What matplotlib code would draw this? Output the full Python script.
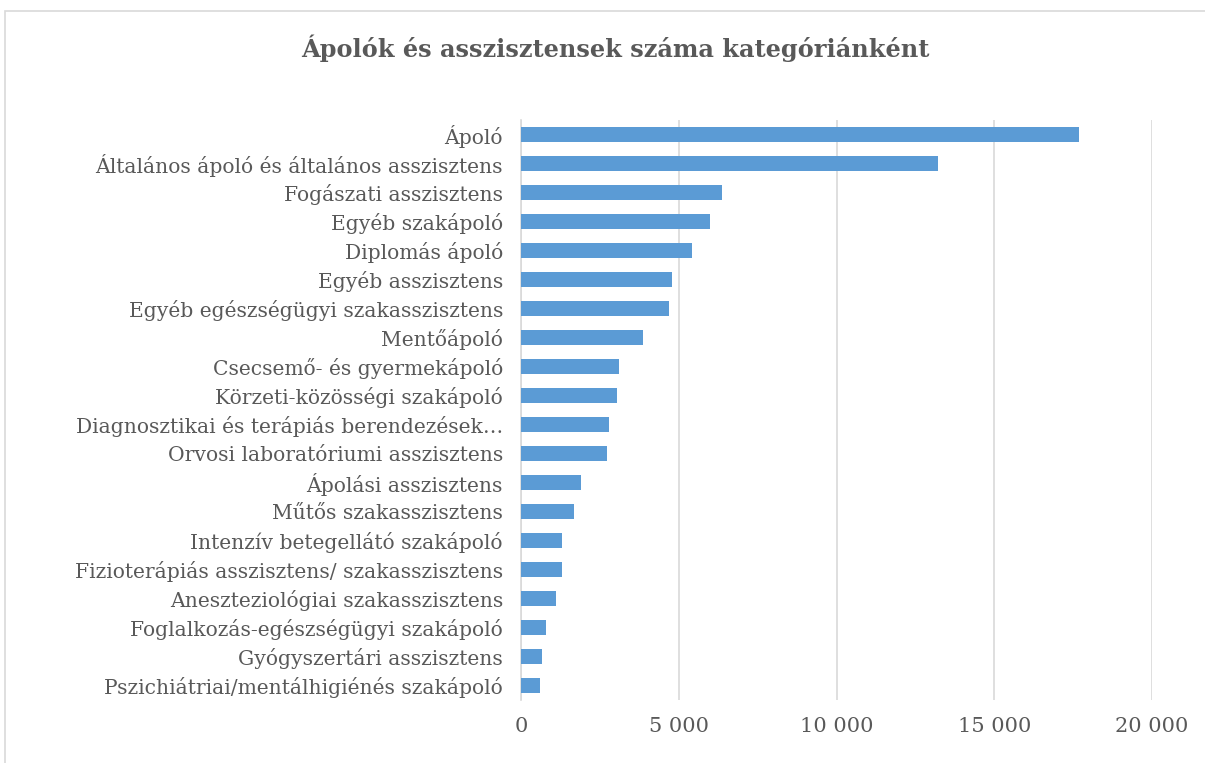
import matplotlib
matplotlib.use("Agg")
import matplotlib.pyplot as plt
from matplotlib.patches import Rectangle
from matplotlib.ticker import FuncFormatter

categories = [
    "Ápoló",
    "Általános ápoló és általános asszisztens",
    "Fogászati asszisztens",
    "Egyéb szakápoló",
    "Diplomás ápoló",
    "Egyéb asszisztens",
    "Egyéb egészségügyi szakasszisztens",
    "Mentőápoló",
    "Csecsemő- és gyermekápoló",
    "Körzeti-közösségi szakápoló",
    "Diagnosztikai és terápiás berendezések…",
    "Orvosi laboratóriumi asszisztens",
    "Ápolási asszisztens",
    "Műtős szakasszisztens",
    "Intenzív betegellátó szakápoló",
    "Fizioterápiás asszisztens/ szakasszisztens",
    "Aneszteziológiai szakasszisztens",
    "Foglalkozás-egészségügyi szakápoló",
    "Gyógyszertári asszisztens",
    "Pszichiátriai/mentálhigiénés szakápoló",
]
values = [17700, 13220, 6370, 5990, 5430, 4800, 4680, 3870, 3110, 3040,
          2800, 2730, 1910, 1670, 1290, 1290, 1100, 785, 660, 595]
xticks = [0, 5000, 10000, 15000, 20000]
title = "Ápolók és asszisztensek száma kategóriánként"

txt = "#595959"
plt.rcParams['font.family'] = ['DejaVu Serif']

fig = plt.figure(figsize=(12.05, 7.63), dpi=100)
ax = fig.add_axes([521/1205, 1-700/763, 631/1205, 580/763])

n = len(categories)
ypos = list(range(n))
ax.barh(ypos, values, height=0.5, color="#5b9bd5", zorder=3)
ax.set_ylim(n - 0.5, -0.5)
ax.set_xlim(0, 20000)
ax.set_yticks(ypos)
ax.set_yticklabels(categories, fontsize=14.6, color=txt)
ax.set_xticks(xticks)
ax.xaxis.set_major_formatter(FuncFormatter(lambda v, p: f"{int(v):,}".replace(",", " ")))
ax.tick_params(axis="x", labelsize=15, labelcolor=txt, length=0, pad=12)
ax.tick_params(axis="y", length=0, pad=13)
ax.grid(axis="x", color="#d9d9d9", linewidth=1.2, zorder=0)
for s in ["top", "right", "bottom"]:
    ax.spines[s].set_visible(False)
ax.spines["left"].set_color("#d9d9d9")
ax.spines["left"].set_linewidth(1.2)

fig.text(615/1205, 1-48/763, title, ha="center", va="center",
         fontsize=17.3, fontweight="bold", color=txt)

fig.patches.append(Rectangle((5/1205, -0.05), 1.2, 1.05-11/763, transform=fig.transFigure,
                             fill=False, edgecolor="#d9d9d9", linewidth=1.2))

fig.savefig("out.png", dpi=100)
